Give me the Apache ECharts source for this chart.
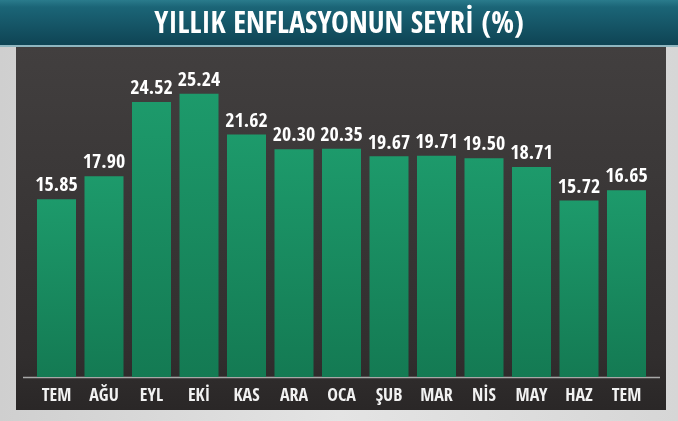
<!DOCTYPE html>
<html><head><meta charset="utf-8">
<script src="https://cdn.jsdelivr.net/npm/echarts@6/dist/echarts.min.js"></script>
<style>html,body{margin:0;padding:0;background:#dcdcdc;}#c{width:678px;height:421px;}</style>
</head><body><div id="c"></div>
<script>
const titleText = 'YILLIK ENFLASYONUN SEYRİ (%)';
const categories = ['TEM','AĞU','EYL','EKİ','KAS','ARA','OCA','ŞUB','MAR','NİS','MAY','HAZ','TEM'];
const values = [15.85,17.90,24.52,25.24,21.62,20.30,20.35,19.67,19.71,19.50,18.71,15.72,16.65];

const FONT = '"Open Sans Condensed","Roboto Condensed",sans-serif';
const chart = echarts.init(document.getElementById('c'), null, {renderer:'canvas'});
chart.setOption({
  animation:false,
  backgroundColor: new echarts.graphic.LinearGradient(0,0,1,0,[
    {offset:0,color:'#cfcfcf'},{offset:0.5,color:'#e4e4e4'},{offset:1,color:'#d6d6d6'}]),
  graphic:[
    {type:'rect',z:-10,shape:{x:0,y:0,width:678,height:47},
     style:{fill:new echarts.graphic.LinearGradient(0,0,0,1,[
       {offset:0,color:'#2a7b8c'},{offset:0.15,color:'#1b6577'},{offset:1,color:'#0e4252'}])}},
    {type:'rect',z:-10,shape:{x:0,y:45,width:678,height:2},style:{fill:'#8fb6c0'}},
    {type:'rect',z:-10,shape:{x:16,y:47,width:650,height:363},
     style:{fill:new echarts.graphic.LinearGradient(0,0,0,1,[
       {offset:0,color:'#423f3f'},{offset:0.85,color:'#312e2e'},{offset:1,color:'#2a2727'}])}},
    {type:'line',z:-5,shape:{x1:23,y1:377.5,x2:660,y2:377.5},style:{stroke:'#a8a8a8',lineWidth:1.5}}
  ],
  title:{text:titleText,left:'center',top:5,
    textStyle:{color:'#ffffff',fontFamily:FONT,fontWeight:'bold',fontSize:30}},
  grid:{left:32.75,right:27.75,top:40.4,bottom:44,containLabel:false},
  xAxis:{type:'category',data:categories,
    axisLine:{show:false},axisTick:{show:false},
    axisLabel:{interval:0,color:'#f2f2f2',fontFamily:FONT,fontWeight:'bold',fontSize:18,margin:10}},
  yAxis:{type:'value',min:0,max:30,show:false,splitLine:{show:false}},
  series:[{type:'bar',data:values,barWidth:39,
    itemStyle:{color:new echarts.graphic.LinearGradient(0,0,0,1,[
      {offset:0,color:'#1d9a6b'},{offset:1,color:'#147a53'}])},
    label:{show:true,position:'top',distance:3,color:'#ffffff',fontFamily:FONT,fontWeight:'bold',fontSize:20,
      formatter:p=>p.value.toFixed(2)}}]
});
</script></body></html>
